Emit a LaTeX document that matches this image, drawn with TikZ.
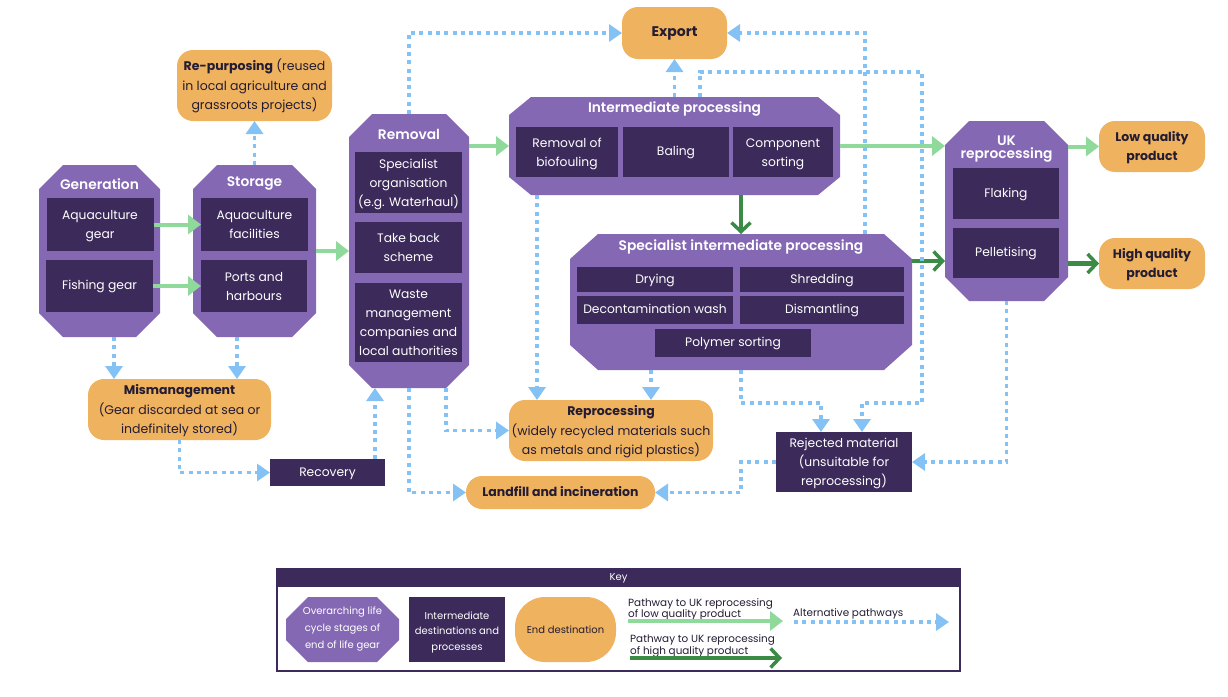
\documentclass[tikz,border=0pt]{standalone}
\usepackage{fontspec}
\setmainfont{Poppins}
\newfontfamily\titlefont{Poppins SemiBold}
\usetikzlibrary{positioning}
\usetikzlibrary{arrows.meta}
\definecolor{stagepurple}{HTML}{8568B3}
\definecolor{innerdark}{HTML}{3B2A5A}
\definecolor{endorange}{HTML}{EFB25E}
\definecolor{altblue}{HTML}{84C2F5}
\definecolor{lowgreen}{HTML}{8FD99B}
\definecolor{highgreen}{HTML}{3B8A45}
\definecolor{darktext}{HTML}{241C33}
\newcommand{\nudge}{\rule{0pt}{15.2pt}}

\begin{document}
\begin{tikzpicture}[
    x=1pt,
    y=-1pt,
    stage/.style={
      rectangle,
      inner sep=0,
      outer sep=0
    },
    title/.style={
      text=white,
      inner sep=0,
      align=center,
      font=\fontsize{13.8}{13}\selectfont\titlefont,
      execute at begin node=\strut,
      execute at end node=\strut
    },
    inner/.style={
      rectangle,
      fill=innerdark,
      text=white,
      inner sep=0,
      outer sep=0,
      align=center,
      font=\fontsize{12.3}{19}\selectfont,
      execute at begin node=\strut,
      execute at end node=\strut
    },
    dest/.style={
      rectangle,
      rounded corners=16pt,
      fill=endorange,
      text=darktext,
      inner sep=0,
      outer sep=0,
      align=center,
      font=\fontsize{12.5}{19.5}\selectfont,
      execute at begin node=\strut,
      execute at end node=\strut
    },
    keytext/.style={
      text=darktext,
      inner sep=0,
      align=left,
      anchor=west,
      font=\fontsize{10.4}{10}\selectfont
    },
    low/.style={
      draw=lowgreen,
      line width=4pt,
      -{Triangle[width=19pt,length=13pt,fill=lowgreen]}
    },
    high/.style={
      draw=highgreen,
      line width=4.5pt,
      -{Straight Barb[width=19pt,length=9pt,line width=3.5pt]}
    },
    alt/.style={
      draw=altblue,
      line width=3.8pt,
      dash pattern=on 4pt off 4.3pt,
      -{Triangle[width=17pt,length=13pt,fill=altblue]}
    },
    ]

    \useasboundingbox (0,0) rectangle (1228,696);

    \foreach \name/\cx/\cy/\bw/\bh/\cxs/\cys in {
      generation/99.5/251/121/172/24/24,
      storage/254.5/251/123/172/24/24,
      removal/409/251/120/274/23/23,
      intermediate/674.5/146/331/98/22/18,
      specialist/741/302/342/136/28/25,
      ukrep/1006.5/211/123/180/24/24,
      keystage/342.5/629.5/113/65/22/22}{
      \node (\name) [stage, minimum width=\bw pt, minimum height=\bh pt] at (\cx,\cy) {};
      \fill[stagepurple]
      ([xshift=\cxs pt]\name.north west) -- ([xshift=-\cxs pt]\name.north east)
      -- ([yshift=-\cys pt]\name.north east) -- ([yshift=\cys pt]\name.south east)
      -- ([xshift=-\cxs pt]\name.south east) -- ([xshift=\cxs pt]\name.south west)
      -- ([yshift=\cys pt]\name.south west) -- ([yshift=-\cys pt]\name.north west) -- cycle;
    }

    \node (gentitle) [title] at (99.5,186) {Generation};
    \node (stotitle) [title] at (254.5,183.5) {Storage};
    \node (remtitle) [title] at (409,136) {Removal};
    \node (inttitle) [title] at (674.5,109) {Intermediate processing};
    \node (spetitle) [title] at (741,247) {Specialist intermediate processing};
    \node (uktitle) [title] at (1006.5,149) {UK\\reprocessing};

    \foreach \name/\cx/\cy/\bw/\bh/\txt in {
      genaqua/100/224.5/107/53/{\nudge Aquaculture\\gear},
      genfish/99.5/286/107/52/{Fishing gear},
      stoaqua/254.5/224.5/107/53/{\nudge Aquaculture\\facilities},
      stoport/254/286/106/52/{\nudge Ports and\\harbours},
      remspec/408.5/182.5/107/61/{\nudge Specialist\\organisation\\(e.g. Waterhaul)},
      remback/408.5/247.5/107/51/{\nudge Take back\\scheme},
      remwaste/408.5/322.5/107/79/{\nudge Waste\\management\\companies and\\local authorities},
      intbio/567/152/102/50/{\nudge Removal of\\biofouling},
      intbale/676/152/106/50/{Baling},
      intsort/783/152/100/50/{\nudge Component\\sorting},
      spedry/655/279.5/156/25/{Drying},
      speshred/822/279.5/164/25/{Shredding},
      spewash/655/309.5/156/28/{Decontamination wash},
      spedis/822/309.5/164/28/{Dismantling},
      spepoly/733/343/156/28/{Polymer sorting},
      ukflake/1006/193.5/106/51/{Flaking},
      ukpellet/1006/253/106/50/{Pelletising},
      recovery/327.5/472.5/115/27/{Recovery},
      rejected/844/462/136/60/{\nudge Rejected material\\(unsuitable for\\reprocessing)}}{
      \node (\name) [inner, minimum width=\bw pt, minimum height=\bh pt] at (\cx,\cy) {\txt};
    }

    \foreach \name/\cx/\cy/\bw/\bh/\txt in {
      export/674.5/33/105/52/{\fontsize{14}{19}\selectfont\textbf{Export}},
      repurposing/254.5/85.5/155/71/{\nudge\textbf{Re-purposing} (reused\\in local agriculture and\\grassroots projects)},
      lowq/1152/146.5/106/51/{\nudge\textbf{Low quality}\\\textbf{product}},
      highq/1152/263.5/106/51/{\nudge\textbf{High quality}\\\textbf{product}},
      misman/179.5/409.5/183/61/{\nudge\textbf{Mismanagement}\\(Gear discarded at sea or\\indefinitely stored)},
      reproc/611/430.5/204/61/{\nudge\textbf{Reprocessing}\\(widely recycled materials such\\as metals and rigid plastics)},
      landfill/560.5/492.5/189/33/{\textbf{Landfill and incineration}}}{
      \node (\name) [dest, minimum width=\bw pt, minimum height=\bh pt] at (\cx,\cy) {\txt};
    }

    \path
    (genaqua.east) edge[low] (stoaqua.west)
    (genfish.east) edge[low] (stoport.west)
    (storage.east) edge[low] (removal.west)
    (removal.east |- intermediate.west) edge[low] (intermediate.west)
    (intermediate.east) edge[low] (ukrep.west |- intermediate.east)
    (lowq.west -| ukrep.east) edge[low] (lowq.west)
    ;

    \path
    (specialist.north |- intermediate.south) edge[high] (specialist.north)
    ([yshift=41pt]specialist.east) edge[high] ([yshift=41pt]specialist.east -| ukrep.west)
    (highq.west -| ukrep.east) edge[high] (highq.west)
    ;

    \coordinate (loopne) at (922,72);
    \coordinate (loopse) at (922,403);

    \draw[alt] (removal.north) |- (export.west);
    \draw[alt] ([xshift=124pt]specialist.north) |- (export.east);
    \draw[alt] (intermediate.north) -- (export.south);
    \draw[alt] ([xshift=25.5pt]intermediate.north) |- (loopne) -- (loopse) -| ([xshift=18pt]rejected.north);
    \draw[alt] (specialist.south) -- ++(0,33) -| ([xshift=-23pt]rejected.north);
    \draw[alt] ([xshift=40pt]reproc.north |- specialist.south) -- ([xshift=40pt]reproc.north);
    \draw[alt] ([xshift=-137.5pt]intermediate.south) -- ([xshift=-137.5pt]intermediate.south |- reproc.north);
    \draw[alt] ([xshift=37pt]removal.south) |- (reproc.west);
    \draw[alt] (removal.south) |- (landfill.west);
    \draw[alt] (rejected.west) -- ++(-35,0) |- (landfill.east);
    \draw[alt] (ukrep.south) |- (rejected.east);
    \draw[alt] (misman.south) |- (recovery.west);
    \draw[alt] ([xshift=47.5pt]recovery.north) -- ([xshift=47.5pt]recovery.north |- removal.south);
    \draw[alt] ([xshift=14.5pt]generation.south) -- ([xshift=14.5pt]generation.south |- misman.north);
    \draw[alt] ([xshift=-17.5pt]storage.south) -- ([xshift=-17.5pt]storage.south |- misman.north);
    \draw[alt] (storage.north) -- (repurposing.south);

    \node (keybox) [draw=innerdark, line width=1.5pt, minimum width=683pt, minimum height=102pt, inner sep=0] at (618.5,620) {};
    \node (keyhead) [inner, minimum width=683pt, minimum height=18pt, font=\fontsize{10}{10}\selectfont] at (618.5,578) {Key};
    \node (keyfirst) [title, font=\fontsize{10}{17}\selectfont] at (342.5,630.5) {Overarching life\\cycle stages of\\end of life gear};
    \node (keyinner) [inner, minimum width=96pt, minimum height=65pt, font=\fontsize{10}{15.5}\selectfont] at (457,629.5) {\nudge Intermediate\\destinations and\\processes};
    \node (keyend) [dest, rounded corners=30pt, minimum width=101pt, minimum height=65pt, font=\fontsize{10}{12}\selectfont] at (565.5,629.5) {\raisebox{-2pt}{End destination}};
    \node (keylow) [keytext] at (628,609.5) {Pathway to UK reprocessing\\of low quality product};
    \node (keyhigh) [keytext] at (630,646) {Pathway to UK reprocessing\\of high quality product};
    \node (keyalt) [keytext] at (793,613.5) {Alternative pathways};

    \coordinate (keylowa) at (628,621);
    \coordinate (keylowb) at (783,621);
    \coordinate (keyhigha) at (630,658);
    \coordinate (keyhighb) at (782,658);
    \coordinate (keyalta) at (794,622);
    \coordinate (keyaltb) at (949,622);

    \draw[low] (keylowa) -- (keylowb);
    \draw[high] (keyhigha) -- (keyhighb);
    \draw[alt] (keyalta) -- (keyaltb);
  \end{tikzpicture}
\end{document}
